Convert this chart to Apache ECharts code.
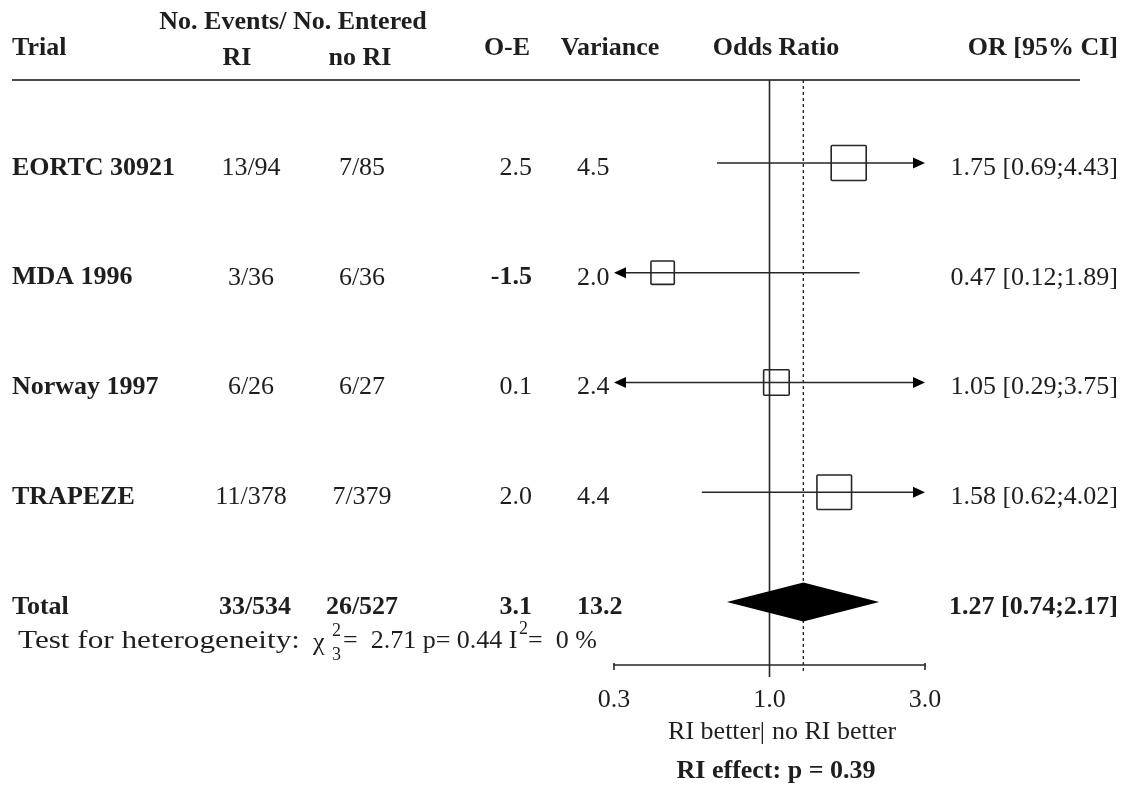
<!DOCTYPE html>
<html>
<head>
<meta charset="utf-8">
<script src="https://cdn.jsdelivr.net/npm/echarts@6/dist/echarts.min.js"></script>
<style>
  html, body { margin: 0; padding: 0; background: #fff; }
  #chart { width: 1126px; height: 786px; }
</style>
</head>
<body>
<div id="chart"></div>
<script>
// ---- Trial data ----
const trials      = ['EORTC 30921', 'MDA 1996', 'Norway 1997', 'TRAPEZE'];
const eventsRI    = ['13/94', '3/36', '6/26', '11/378'];
const eventsNoRI  = ['7/85', '6/36', '6/27', '7/379'];
const oMinusE     = [2.5, -1.5, 0.1, 2.0];
const variances   = [4.5, 2.0, 2.4, 4.4];
const oddsRatio   = [1.75, 0.47, 1.05, 1.58];
const ciLower     = [0.69, 0.12, 0.29, 0.62];
const ciUpper     = [4.43, 1.89, 3.75, 4.02];

// ---- Pooled result ----
const totalLabel    = 'Total';
const totalRI       = '33/534';
const totalNoRI     = '26/527';
const totalOE       = 3.1;
const totalVariance = 13.2;
const pooledOR      = 1.27;
const pooledLower   = 0.74;
const pooledUpper   = 2.17;

// ---- Axis ----
const axisMin    = 1 / 3;
const axisMax    = 3;
const tickValues = [1 / 3, 1, 3];
const tickLabels = ['0.3', '1.0', '3.0'];

// ---- Layout / style ----
const FONT_FAMILY = '"Liberation Serif", "Times New Roman", serif';
const FS = 26;
const TEXT = '#1e1e1e';
const LINE = '#262626';
const reg  = FS + 'px ' + FONT_FAMILY;
const bold = 'bold ' + FS + 'px ' + FONT_FAMILY;
const COL = { trial: 12, ri: 251, noRi: 362, oe: 532, variance: 577, orText: 1118 };
const BOX_SCALE = 16.5;   // square side = BOX_SCALE * sqrt(variance)
const TEXT_DY = 5;

const fmtCI = (o, l, h) => o.toFixed(2) + ' [' + l.toFixed(2) + ';' + h.toFixed(2) + ']';

// table rows: trials followed by the pooled row
const tableRows = trials.map((t, i) => ({
  cells: [t, eventsRI[i], eventsNoRI[i], oMinusE[i].toFixed(1), variances[i].toFixed(1),
          fmtCI(oddsRatio[i], ciLower[i], ciUpper[i])],
  bold: false
}));
tableRows.push({
  cells: [totalLabel, totalRI, totalNoRI, totalOE.toFixed(1), totalVariance.toFixed(1),
          fmtCI(pooledOR, pooledLower, pooledUpper)],
  bold: true
});

const chart = echarts.init(document.getElementById('chart'), null, { renderer: 'canvas' });

function txt(text, x, y, font, align) {
  return { type: 'text', style: { text, x, y, font, fill: TEXT, align, verticalAlign: 'middle' } };
}

// one row of the table, placed on the row's y position
function renderTableRow(params, api) {
  const idx = api.value(0);
  const row = tableRows[idx];
  const y = api.coord([1, idx])[1] + TEXT_DY;
  const c = row.cells;
  const f = row.bold ? bold : reg;
  const oeFont = row.bold || oMinusE[idx] < 0 ? bold : reg;
  return {
    type: 'group',
    children: [
      txt(c[0], COL.trial, y, bold, 'left'),
      txt(c[1], COL.ri + (row.bold ? 4 : 0), y, f, 'center'),
      txt(c[2], COL.noRi, y, f, 'center'),
      txt(c[3], COL.oe, y, oeFont, 'right'),
      txt(c[4], COL.variance, y, f, 'left'),
      txt(c[5], COL.orText, y, f, 'right')
    ]
  };
}

// CI line, clipping arrows and weight square for each trial
function renderTrial(params, api) {
  const row = api.value(0);
  const or = api.value(1), lo = api.value(2), hi = api.value(3), v = api.value(4);
  const [xo, y] = api.coord([or, row]);
  const xl = api.coord([Math.max(lo, axisMin), row])[0];
  const xh = api.coord([Math.min(hi, axisMax), row])[0];
  const AL = 12, AH = 5.5;
  const children = [];
  const x1 = lo < axisMin ? xl + AL : xl;
  const x2 = hi > axisMax ? xh - AL : xh;
  children.push({ type: 'line', shape: { x1, y1: y, x2, y2: y },
                  style: { stroke: LINE, lineWidth: 1.6 } });
  if (lo < axisMin) {
    children.push({ type: 'polygon', shape: { points: [[xl, y], [xl + AL, y - AH], [xl + AL, y + AH]] },
                    style: { fill: '#000' } });
  }
  if (hi > axisMax) {
    children.push({ type: 'polygon', shape: { points: [[xh, y], [xh - AL, y - AH], [xh - AL, y + AH]] },
                    style: { fill: '#000' } });
  }
  const s = BOX_SCALE * Math.sqrt(v);
  children.push({ type: 'rect', shape: { x: xo - s / 2, y: y - s / 2, width: s, height: s, r: 1 },
                  style: { fill: 'none', stroke: LINE, lineWidth: 1.6 } });
  return { type: 'group', children };
}

// pooled diamond
function renderDiamond(params, api) {
  const row = api.value(0);
  const [xo, y] = api.coord([api.value(1), row]);
  const xl = api.coord([api.value(2), row])[0];
  const xh = api.coord([api.value(3), row])[0];
  const h = 19.5;
  return { type: 'polygon', shape: { points: [[xl, y], [xo, y - h], [xh, y], [xo, y + h]] },
           style: { fill: '#000' } };
}

// vertical reference lines (null effect and pooled estimate)
function renderRefLine(params, api) {
  const cs = params.coordSys;
  const x = api.coord([api.value(0), 0])[0];
  const dashed = api.value(1) === 1;
  return { type: 'line',
           shape: { x1: x, y1: cs.y, x2: x, y2: cs.y + cs.height + (dashed ? 8 : 12) },
           style: { stroke: LINE, lineWidth: dashed ? 1.4 : 1.6, lineDash: dashed ? [3, 3] : null } };
}

// x-axis end ticks and labels
function renderTicks(params, api) {
  const cs = params.coordSys;
  const idx = params.dataIndex;
  const x = api.coord([api.value(0), 0])[0];
  const yb = cs.y + cs.height;
  const children = [txt(tickLabels[idx], x, yb + 35, reg, 'center')];
  if (idx !== 1) {
    children.push({ type: 'line', shape: { x1: x, y1: yb - 2, x2: x, y2: yb + 5 },
                    style: { stroke: LINE, lineWidth: 1.6 } });
  }
  return { type: 'group', children };
}

// heterogeneity line built from pieces (with stacked super/subscript)
const small = '18px ' + FONT_FAMILY;
const hetY = 641;
function hetText(t, x, dy, font, sx) {
  return { type: 'text', x, y: hetY + dy, scaleX: sx || 1,
           style: { text: t, font, fill: TEXT, align: 'left', verticalAlign: 'middle' } };
}
const hetPieces = [
  hetText('Test for heterogeneity:', 18, 0, reg, 1.2),
  hetText('\u03C7', 313, 2, reg),
  hetText('2', 332, -10, small),
  hetText('3', 332, 14, small),
  hetText('=  2.71 p= 0.44 I', 343, 0, reg),
  hetText('2', 519, -12, small),
  hetText('=  0 %', 528, 0, reg)
];

const option = {
  animation: false,
  backgroundColor: '#fff',
  grid: { left: 614, right: 201, top: 80, bottom: 121 },
  xAxis: {
    type: 'log', logBase: 10, min: axisMin, max: axisMax,
    axisLine: { show: true, onZero: false, lineStyle: { color: LINE, width: 1.6 } },
    axisTick: { show: false }, axisLabel: { show: false }, splitLine: { show: false }
  },
  yAxis: {
    type: 'value', inverse: true, min: -0.756, max: 4.574, show: false,
    splitLine: { show: false }
  },
  graphic: [
    { type: 'line', shape: { x1: 12, y1: 80, x2: 1080, y2: 80 }, style: { stroke: '#4a4a4a', lineWidth: 2 } },
    { type: 'text', x: 293, y: 22, style: { text: 'No. Events/ No. Entered', font: bold, fill: TEXT, align: 'center', verticalAlign: 'middle' } },
    { type: 'text', x: 12, y: 48, style: { text: 'Trial', font: bold, fill: TEXT, align: 'left', verticalAlign: 'middle' } },
    { type: 'text', x: 237, y: 58, style: { text: 'RI', font: bold, fill: TEXT, align: 'center', verticalAlign: 'middle' } },
    { type: 'text', x: 360, y: 58, style: { text: 'no RI', font: bold, fill: TEXT, align: 'center', verticalAlign: 'middle' } },
    { type: 'text', x: 507, y: 48, style: { text: 'O-E', font: bold, fill: TEXT, align: 'center', verticalAlign: 'middle' } },
    { type: 'text', x: 610, y: 48, style: { text: 'Variance', font: bold, fill: TEXT, align: 'center', verticalAlign: 'middle' } },
    { type: 'text', x: 776, y: 48, style: { text: 'Odds Ratio', font: bold, fill: TEXT, align: 'center', verticalAlign: 'middle' } },
    { type: 'text', x: 1118, y: 48, style: { text: 'OR [95% CI]', font: bold, fill: TEXT, align: 'right', verticalAlign: 'middle' } },
    { type: 'text', x: 765, y: 732, style: { text: 'RI better|', font: reg, fill: TEXT, align: 'right', verticalAlign: 'middle' } },
    { type: 'text', x: 772, y: 732, style: { text: 'no RI better', font: reg, fill: TEXT, align: 'left', verticalAlign: 'middle' } },
    { type: 'text', x: 776, y: 771, style: { text: 'RI effect: p = 0.39', font: bold, fill: TEXT, align: 'center', verticalAlign: 'middle' } }
  ].concat(hetPieces),
  series: [
    { type: 'custom', name: 'refLines', renderItem: renderRefLine, clip: false,
      data: [[1, 0], [pooledOR, 1]], encode: { x: 0 }, z: 1 },
    { type: 'custom', name: 'ticks', renderItem: renderTicks, clip: false,
      data: tickValues.map(v => [v]), encode: { x: 0 }, z: 1 },
    { type: 'custom', name: 'trials', renderItem: renderTrial, clip: false,
      data: trials.map((t, i) => [i, oddsRatio[i], ciLower[i], ciUpper[i], variances[i]]),
      encode: { x: 1, y: 0 }, z: 3 },
    { type: 'custom', name: 'pooled', renderItem: renderDiamond, clip: false,
      data: [[trials.length, pooledOR, pooledLower, pooledUpper]], encode: { x: 1, y: 0 }, z: 3 },
    { type: 'custom', name: 'table', renderItem: renderTableRow, clip: false,
      data: tableRows.map((r, i) => [i]), encode: { y: 0 }, z: 3 }
  ]
};
chart.setOption(option);
</script>
</body>
</html>
